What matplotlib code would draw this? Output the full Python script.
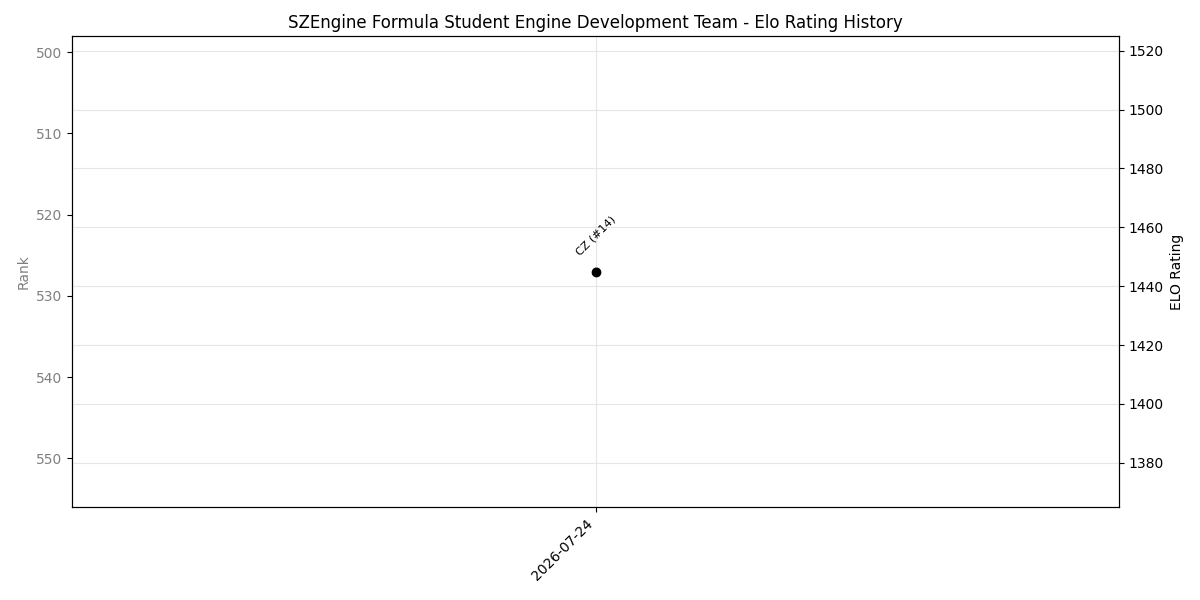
import matplotlib
matplotlib.use("Agg")
import matplotlib.pyplot as plt
import matplotlib.dates as mdates
from datetime import datetime, timedelta

# data
dates = ["2026-07-24"]
ranks = [527]
elo = [1445]
labels = ["CZ (#14)"]

x = [datetime.strptime(d, "%Y-%m-%d") for d in dates]

fig, ax1 = plt.subplots(figsize=(12, 6), dpi=100)
ax2 = ax1.twinx()

# rank on the left (inverted), grey
ax1.plot(x, ranks, "o", color="grey", markersize=5, zorder=1)
ax1.set_ylim(556, 498)
ax1.set_ylabel("Rank", color="grey")
ax1.tick_params(axis="y", labelcolor="grey")

# elo on the right
ax2.plot(x, elo, "o", color="black", markersize=6, zorder=3)
ax2.set_ylim(1365, 1525)
ax2.set_ylabel("ELO Rating")
ax2.grid(True, color="#e6e6e6", linewidth=0.8)
ax2.set_axisbelow(True)

for xi, yi, lab in zip(x, elo, labels):
    ax2.annotate(lab, (xi, yi), xytext=(0, 10), textcoords="offset points",
                 rotation=45, ha="center", va="bottom", fontsize=8)

ax1.set_xlim(x[0] - timedelta(days=1), x[0] + timedelta(days=1))
ax1.set_xticks(x)
ax1.xaxis.set_major_formatter(mdates.DateFormatter("%Y-%m-%d"))
ax1.grid(True, axis="x", color="#e6e6e6", linewidth=0.8)
plt.setp(ax1.get_xticklabels(), rotation=45, ha="right")

ax1.set_title("SZEngine Formula Student Engine Development Team - Elo Rating History")
fig.subplots_adjust(left=0.06, right=0.9325, top=0.94, bottom=0.155)
fig.savefig("out.png")
